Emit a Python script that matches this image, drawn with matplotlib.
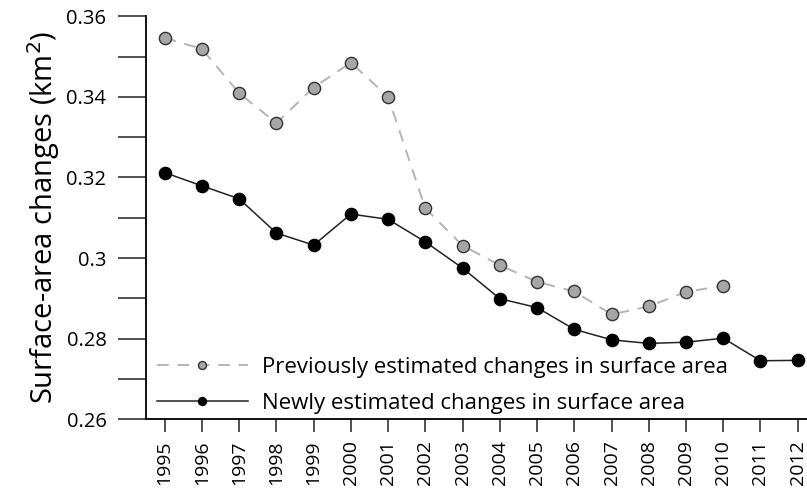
import matplotlib.pyplot as plt
from matplotlib.ticker import MultipleLocator, FixedLocator, FixedFormatter

years = list(range(1995, 2013))
prev_years = list(range(1995, 2011))
prev_vals = [0.3546, 0.3519, 0.3409, 0.3335, 0.3423, 0.3485, 0.3400, 0.3123,
             0.3031, 0.2982, 0.2941, 0.2917, 0.2860, 0.2880, 0.2916, 0.2931]
new_vals = [0.3212, 0.3179, 0.3147, 0.3062, 0.3032, 0.3109, 0.3096, 0.3040,
            0.2975, 0.2899, 0.2877, 0.2823, 0.2797, 0.2788, 0.2791, 0.2801,
            0.2745, 0.2746]

plt.rcParams['font.family'] = ['Open Sans', 'DejaVu Sans']

fig = plt.figure(figsize=(8.07, 4.92), dpi=100)
ax = fig.add_axes([0.181, 0.148, 0.819, 0.819])

ax.plot(prev_years, prev_vals, color='#b4b4b4', linestyle=(0, (6, 4.5)), linewidth=1.4,
        marker='o', markersize=8.8, markerfacecolor='#a6a6a6', markeredgecolor='#333333',
        markeredgewidth=1.0, label='Previously estimated changes in surface area')
ax.plot(years, new_vals, color='#222222', linewidth=1.1,
        marker='o', markersize=8.8, markerfacecolor='black', markeredgecolor='black',
        label='Newly estimated changes in surface area')

ax.set_xlim(1994.5, 2012.25)
ax.set_ylim(0.26, 0.36)

ax.yaxis.set_major_locator(FixedLocator([0.26, 0.28, 0.30, 0.32, 0.34, 0.36]))
ax.yaxis.set_major_formatter(FixedFormatter(['0.26', '0.28', '0.3', '0.32', '0.34', '0.36']))
ax.yaxis.set_minor_locator(MultipleLocator(0.01))
ax.tick_params(axis='y', which='both', direction='out', length=20.5, width=1.2,
               labelsize=14.5, pad=8, color='#333333')
ax.set_xticks(years)
ax.set_xticklabels([str(y) for y in years], rotation=90)
ax.tick_params(axis='x', direction='out', length=9, width=1.2, labelsize=14,
               pad=6, color='#333333')

ax.spines['top'].set_visible(False)
ax.spines['right'].set_visible(False)
ax.spines['left'].set_linewidth(1.3)
ax.spines['bottom'].set_linewidth(1.3)

ax.set_ylabel('Surface-area changes (km$^2$)', fontsize=21, labelpad=3)

ax.legend(loc='lower left', frameon=False, fontsize=16, markerscale=0.65,
          handlelength=4.1, handletextpad=0.65, labelspacing=0.65,
          borderaxespad=0.0, borderpad=0.25, bbox_to_anchor=(0.008, 0.0))

fig.savefig('out.png', dpi=100)
